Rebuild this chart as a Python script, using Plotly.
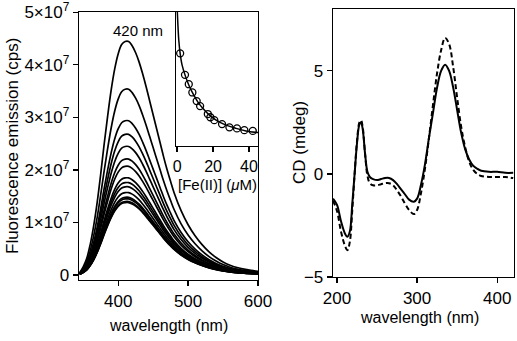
import plotly.graph_objects as go

# ---------------- data ----------------
# Fluorescence emission spectra (normalized shape) and peak heights
wavelength_em = [345, 350, 355, 360, 365, 370, 375, 380, 385, 390, 395, 400, 405, 410, 415,
                 420, 425, 430, 435, 440, 445, 450, 455, 460, 465, 470, 475, 480, 490, 500,
                 510, 520, 530, 540, 550, 560, 570, 580, 590, 600]
shape_em = [0.01, 0.035, 0.07, 0.13, 0.21, 0.31, 0.43, 0.56, 0.68, 0.79, 0.88, 0.945, 0.985, 0.998, 0.998,
            0.98, 0.95, 0.91, 0.86, 0.805, 0.745, 0.685, 0.625, 0.565, 0.505, 0.45, 0.40, 0.352, 0.275, 0.215,
            0.168, 0.13, 0.099, 0.075, 0.056, 0.042, 0.032, 0.025, 0.02, 0.016]
peak_em = [4.45e7, 3.54e7, 2.94e7, 2.68e7, 2.45e7, 2.21e7, 2.07e7, 1.85e7, 1.76e7, 1.68e7,
           1.57e7, 1.48e7, 1.45e7, 1.40e7, 1.38e7]

# Inset: titration points and fit
fe_conc = [1.7, 4.4, 6.5, 8.5, 10.9, 12.8, 17.1, 18.5, 20.7, 25.0, 29.1, 33.3, 37.4, 42.1]
fe_intensity = [3.54e7, 2.94e7, 2.68e7, 2.45e7, 2.21e7, 2.07e7, 1.85e7, 1.76e7, 1.68e7,
                1.57e7, 1.48e7, 1.45e7, 1.40e7, 1.38e7]
fit_conc = [0.0, 0.17, 0.94, 1.7, 2.8, 4.4, 6.5, 8.7, 11.5, 14.3, 18.0, 21.7, 27.2, 32.8, 38.3, 45.5]
fit_intensity = [4.9e7, 4.66e7, 3.91e7, 3.54e7, 3.21e7, 2.94e7, 2.66e7, 2.43e7, 2.19e7, 2.01e7,
                 1.82e7, 1.68e7, 1.54e7, 1.45e7, 1.38e7, 1.33e7]

# CD spectra
wavelength_cd = [195, 200, 205, 210, 213, 216, 219, 222, 225, 228, 230, 232, 235, 238, 241, 245,
                 250, 255, 260, 265, 270, 275, 280, 285, 290, 296, 300, 305, 310, 315, 320, 325,
                 330, 335, 340, 345, 350, 355, 360, 365, 370, 375, 380, 390, 400, 410, 420]
cd_solid = [-1.2, -1.5, -2.3, -2.9, -3.05, -2.8, -1.5, 0.0, 1.5, 2.4, 2.5, 2.2, 1.0, 0.1, -0.15, -0.25,
            -0.3, -0.25, -0.2, -0.2, -0.3, -0.5, -0.75, -1.0, -1.25, -1.35, -1.2, -0.5, 0.5, 1.8, 3.0, 4.2,
            5.0, 5.3, 5.0, 4.2, 3.1, 2.0, 1.2, 0.7, 0.4, 0.25, 0.15, 0.1, 0.1, 0.05, 0.05]
cd_dashed = [-1.3, -1.8, -2.8, -3.5, -3.7, -3.3, -1.8, 0.0, 1.6, 2.5, 2.6, 2.3, 1.0, -0.1, -0.45, -0.55,
             -0.55, -0.5, -0.45, -0.45, -0.55, -0.8, -1.1, -1.45, -1.75, -1.95, -1.75, -0.9, 0.3, 1.8, 3.4, 4.9,
             6.0, 6.6, 6.3, 5.2, 3.7, 2.3, 1.3, 0.6, 0.2, 0.0, -0.1, -0.15, -0.15, -0.15, -0.2]

em_ticks = [0, 1e7, 2e7, 3e7, 4e7, 5e7]
em_ticktext = ["0", "1×10<sup>7</sup>", "2×10<sup>7</sup>", "3×10<sup>7</sup>",
               "4×10<sup>7</sup>", "5×10<sup>7</sup>"]

# ---------------- figure ----------------
W, H = 517, 341
FONT = "Liberation Sans, Arial, Helvetica, sans-serif"

def px_x(p):
    return p / W

def px_y(p):
    return 1 - p / H

fig = go.Figure()

for pk in peak_em:
    fig.add_trace(go.Scatter(x=wavelength_em, y=[pk * s for s in shape_em], mode="lines",
                             line=dict(color="black", width=1.7, shape="spline"),
                             xaxis="x", yaxis="y", showlegend=False, hoverinfo="skip"))

fig.add_trace(go.Scatter(x=fit_conc, y=fit_intensity, mode="lines",
                         line=dict(color="black", width=1.5, shape="spline"),
                         xaxis="x2", yaxis="y2", showlegend=False))
fig.add_trace(go.Scatter(x=fe_conc, y=fe_intensity, mode="markers",
                         marker=dict(symbol="circle-open", size=7, color="black", line=dict(width=1.3)),
                         xaxis="x2", yaxis="y2", showlegend=False, cliponaxis=False))

fig.add_trace(go.Scatter(x=wavelength_cd, y=cd_solid, mode="lines",
                         line=dict(color="black", width=2, shape="spline"),
                         xaxis="x3", yaxis="y3", showlegend=False))
fig.add_trace(go.Scatter(x=wavelength_cd, y=cd_dashed, mode="lines",
                         line=dict(color="black", width=2, dash="5px,3px", shape="spline"),
                         xaxis="x3", yaxis="y3", showlegend=False))

axis_common = dict(showline=True, linecolor="black", linewidth=1.3, mirror=True,
                   ticks="outside", ticklen=5, tickwidth=1.3, tickcolor="black",
                   showgrid=False, zeroline=False, automargin=False, ticklabeloverflow="allow",
                   tickfont=dict(family=FONT, size=17, color="black"))

fig.update_layout(
    width=W, height=H,
    margin=dict(l=0, r=0, t=0, b=0, pad=0, autoexpand=False),
    paper_bgcolor="white", plot_bgcolor="white",
    font=dict(family=FONT, color="black"),
    xaxis=dict(domain=[px_x(79), px_x(258)], range=[344, 600], tickvals=[400, 500, 600],
               anchor="y", **axis_common),
    yaxis=dict(domain=[px_y(280), px_y(12)], range=[-0.095e7, 5.003e7], tickvals=em_ticks,
               ticktext=em_ticktext, anchor="x", **axis_common),
    xaxis2=dict(domain=[px_x(176), px_x(258)], range=[-0.6, 45], tickvals=[0, 20, 40],
                anchor="y2", **{**axis_common, "tickfont": dict(family=FONT, size=16, color="black")}),
    yaxis2=dict(domain=[px_y(146), px_y(12)], range=[0.96e7, 4.69e7], anchor="x2",
                showline=True, linecolor="black", linewidth=1.3, mirror=True, automargin=False,
                ticks="", showticklabels=False, showgrid=False, zeroline=False),
    xaxis3=dict(domain=[px_x(333), px_x(514)], range=[195, 421], tickvals=[200, 300, 400],
                anchor="y3", **axis_common),
    yaxis3=dict(domain=[px_y(277), px_y(9)], range=[-5.002, 8], tickvals=[-5, 0, 5],
                anchor="x3", **axis_common),
)

annotations = [
    dict(text="Fluorescence emission (cps)", x=px_x(12), y=px_y(146), textangle=-90, size=17),
    dict(text="wavelength (nm)", x=px_x(168), y=px_y(325), textangle=0, size=16),
    dict(text="[Fe(II)] (<i>μ</i>M)", x=px_x(217.5), y=px_y(184), textangle=0, size=15),
    dict(text="420 nm", x=px_x(137.5), y=px_y(30), textangle=0, size=15),
    dict(text="CD (mdeg)", x=px_x(299), y=px_y(143), textangle=-90, size=17),
    dict(text="wavelength (nm)", x=px_x(419), y=px_y(317), textangle=0, size=16),
]
for a in annotations:
    fig.add_annotation(text=a["text"], x=a["x"], y=a["y"], xref="paper", yref="paper",
                       xanchor="center", yanchor="middle", showarrow=False, textangle=a["textangle"],
                       font=dict(family=FONT, size=a["size"], color="black"))

fig.write_html("out.html",
               config={"displayModeBar": False, "staticPlot": True},
               post_script="document.body.style.margin='0';document.body.style.padding='0';"
                           "document.body.style.overflow='hidden';")
